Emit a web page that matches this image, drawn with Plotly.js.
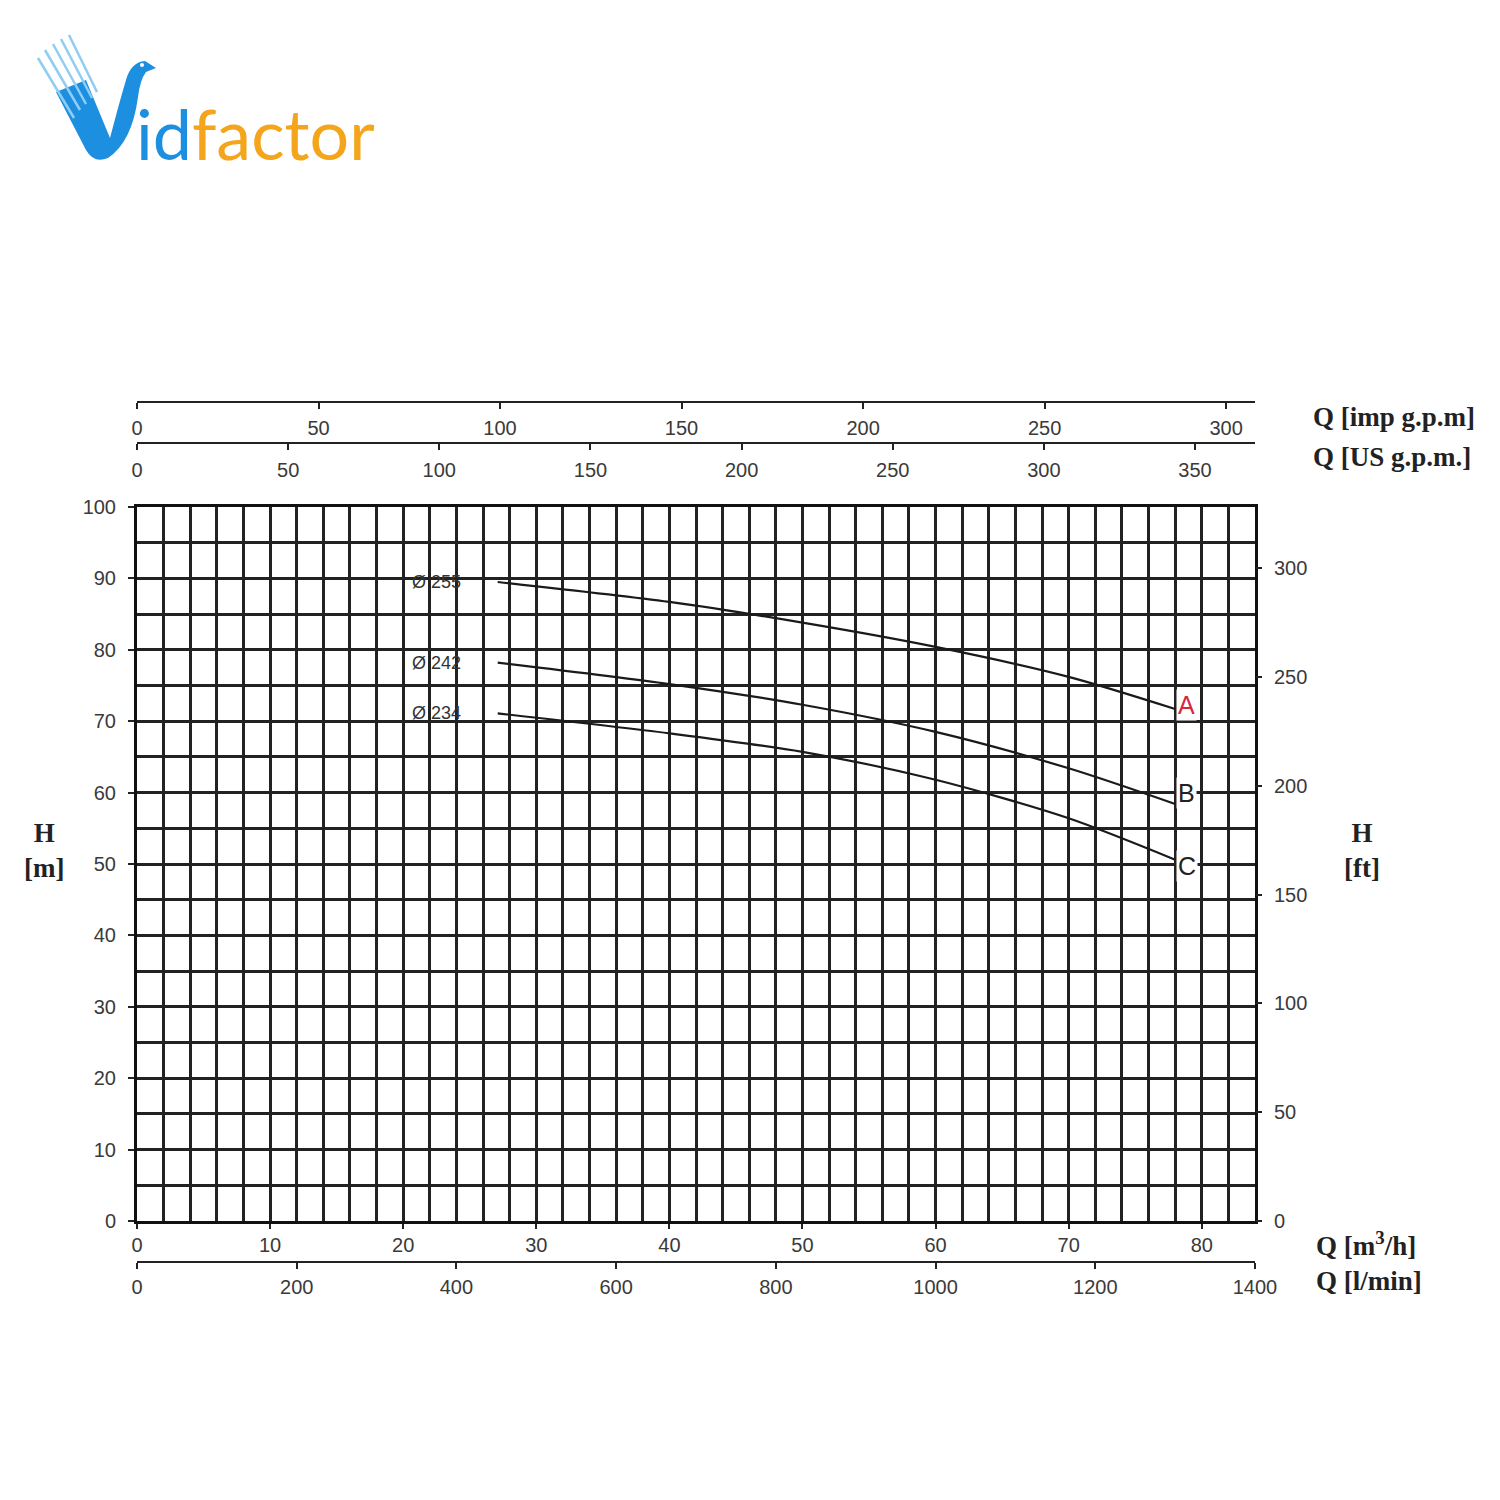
<!DOCTYPE html>
<html><head><meta charset="utf-8">
<script src="https://cdn.plot.ly/plotly-3.0.1.min.js"></script>
<style>body{margin:0;background:#fff}#chart{width:1500px;height:1500px}</style>
</head><body><div id="chart"></div>
<script>
// ---- data (flow in m3/h, head in m) ----
const flowM3h = [27.1, 40, 50, 60, 70, 78];
const headA = [89.5, 86.7, 83.8, 80.4, 76.2, 71.7];
const headB = [78.2, 75.2, 72.3, 68.5, 63.4, 58.4];
const headC = [71.1, 68.3, 65.7, 61.8, 56.4, 50.6];
const curveHeads = [headA, headB, headC];
const diameterLabels = ['Ø 255', 'Ø 242', 'Ø 234'];
const curveLetters = ['A', 'B', 'C'];
const letterColors = ['#d8263c', '#222222', '#222222'];
const letterShift = [4, 11, -6];

// ---- tick labels ----
const m3hTicks = [0, 10, 20, 30, 40, 50, 60, 70, 80];
const lminTicks = [0, 200, 400, 600, 800, 1000, 1200, 1400];
const usTicks = [0, 50, 100, 150, 200, 250, 300, 350];
const impTicks = [0, 50, 100, 150, 200, 250, 300];
const mTicks = [0, 10, 20, 30, 40, 50, 60, 70, 80, 90, 100];
const ftTicks = [0, 50, 100, 150, 200, 250, 300];

const Q_MAX = 84, H_MAX = 100;
const LMIN_PER_M3H = 1000 / 60, USGPM_PER_M3H = 4.40287, IMPGPM_PER_M3H = 3.66615, FT_PER_M = 3.28084;

// layout helpers (pixel -> paper), margins l=137 r=245 t=400 b=235
const ML = 137, MR = 245, MT = 400, MB = 235, W = 1500, H = 1500;
const PW = W - ML - MR, PH = H - MT - MB;
const px = x => (x - ML) / PW;
const py = y => (H - MB - y) / PH;

const tickFont = {family: 'Liberation Sans, Arial, sans-serif', size: 20, color: '#3a3a3a'};
const titleFont = {family: 'Liberation Serif, Times New Roman, serif', size: 27, color: '#222'};
const gridCol = '#222222';
const GW = 3;

const traces = curveHeads.map((h, i) => ({
  x: flowM3h, y: h, type: 'scatter', mode: 'lines',
  line: {color: '#1a1a1a', width: 2.2, shape: 'spline', smoothing: 0.8},
  xaxis: 'x', yaxis: 'y', showlegend: false, hoverinfo: 'skip'
}));
// helper empty traces so the secondary axes are drawn
['x2', 'x3', 'x4'].forEach(a => traces.push({x: [], y: [], type: 'scatter', mode: 'lines', xaxis: a, yaxis: 'y', showlegend: false}));
traces.push({x: [], y: [], type: 'scatter', mode: 'lines', xaxis: 'x', yaxis: 'y2', showlegend: false});

const freeAxis = (range, ticks, pos, standoff) => ({
  overlaying: 'x', anchor: 'free', position: pos, side: 'bottom',
  range: range, tickmode: 'array', tickvals: ticks, ticktext: ticks.map(String),
  showline: true, linecolor: '#222', linewidth: 2.2, ticks: 'outside', ticklen: 6, tickwidth: 2, tickcolor: '#222',
  showgrid: false, zeroline: false, tickfont: tickFont, ticklabelstandoff: standoff, fixedrange: true
});

const annotations = [];
curveHeads.forEach((h, i) => {
  annotations.push({xref: 'x', yref: 'y', x: flowM3h[0], y: h[0], text: diameterLabels[i], showarrow: false,
    xanchor: 'right', yanchor: 'middle', xshift: -35,
    font: {family: 'Liberation Sans, Arial, sans-serif', size: 18, color: '#333'}});
  annotations.push({xref: 'x', yref: 'y', x: flowM3h[flowM3h.length - 1], y: h[h.length - 1], text: curveLetters[i], showarrow: false,
    xanchor: 'left', yanchor: 'middle', xshift: 1, yshift: letterShift[i], bgcolor: '#ffffff', borderpad: 1,
    font: {family: 'Liberation Sans, Arial, sans-serif', size: 25, color: letterColors[i]}});
});
// axis titles
const titleAnn = (x, y, text, anchor) => ({xref: 'paper', yref: 'paper', x: px(x), y: py(y), text: text, showarrow: false,
  xanchor: anchor, yanchor: 'middle', font: titleFont});
annotations.push(titleAnn(1311, 417, '<b>Q [imp g.p.m]</b>', 'left'));
annotations.push(titleAnn(1311, 457, '<b>Q [US g.p.m.]</b>', 'left'));
annotations.push(titleAnn(1314, 1244, '<b>Q [m<sup>3</sup>/h]</b>', 'left'));
annotations.push(titleAnn(1314, 1281, '<b>Q [l/min]</b>', 'left'));
annotations.push(titleAnn(44, 850, '<b>H<br>[m]</b>', 'center'));
annotations.push(titleAnn(1362, 850, '<b>H<br>[ft]</b>', 'center'));
// logo text
annotations.push({xref: 'paper', yref: 'paper', x: px(134), y: py(133), xanchor: 'left', yanchor: 'middle', showarrow: false,
  text: '<span style="color:#1d8fe0">id</span><span style="color:#f4a51c">factor</span>',
  font: {family: 'Lato, Open Sans, sans-serif', size: 70}});

const P = (x, y) => px(x).toFixed(5) + ',' + py(y).toFixed(5);
const birdPath = 'M ' + P(56, 92) + ' L ' + P(86, 80) + ' L ' + P(110, 138) + ' Q ' + P(120, 100) + ' ' + P(126, 80) +
  ' Q ' + P(131, 62) + ' ' + P(145, 61) + ' L ' + P(156, 68) + ' L ' + P(146, 72) + ' Q ' + P(140, 80) + ' ' + P(138, 97) +
  ' Q ' + P(132, 142) + ' ' + P(108, 158) + ' Q ' + P(94, 164) + ' ' + P(86, 150) + ' Z';
const shapes = [{type: 'path', xref: 'paper', yref: 'paper', path: birdPath, fillcolor: '#1d8fe0', line: {width: 0}, layer: 'above'}];
const streaks = [[38, 58, 74, 118], [45, 50, 80, 110], [53, 44, 86, 104], [61, 39, 92, 98], [69, 35, 97, 92]];
streaks.forEach(s => shapes.push({type: 'line', xref: 'paper', yref: 'paper', x0: px(s[0]), y0: py(s[1]), x1: px(s[2]), y1: py(s[3]),
  line: {color: '#8fcdf3', width: 2.5}}));
shapes.push({type: 'circle', xref: 'paper', yref: 'paper', x0: px(140), y0: py(63), x1: px(144), y1: py(67), fillcolor: '#ffffff', line: {width: 0}});

const layout = {
  width: W, height: H, autosize: false,
  margin: {l: ML, r: MR, t: MT, b: MB, pad: 0},
  paper_bgcolor: '#ffffff', plot_bgcolor: '#ffffff', showlegend: false,
  xaxis: {
    domain: [0, 1], range: [0, Q_MAX], anchor: 'y', tickmode: 'array', tickvals: m3hTicks, ticktext: m3hTicks.map(String),
    ticks: 'outside', ticklen: 5, tickwidth: 2, tickcolor: '#222', tickfont: tickFont, ticklabelstandoff: -1,
    showgrid: true, gridcolor: gridCol, gridwidth: GW,
    minor: {tickmode: 'linear', tick0: 0, dtick: 2, showgrid: true, gridcolor: gridCol, gridwidth: GW, ticks: ''},
    showline: true, mirror: true, linecolor: '#111', linewidth: 3, zeroline: false, fixedrange: true
  },
  yaxis: {
    domain: [py(1221), py(507)], range: [0, H_MAX], anchor: 'x', tickmode: 'array', tickvals: mTicks, ticktext: mTicks.map(String),
    ticks: 'outside', ticklen: 6, tickwidth: 2, tickcolor: '#222', tickfont: tickFont, ticklabelstandoff: 8,
    showgrid: true, gridcolor: gridCol, gridwidth: GW,
    minor: {tickmode: 'linear', tick0: 0, dtick: 5, showgrid: true, gridcolor: gridCol, gridwidth: GW, ticks: ''},
    showline: true, mirror: true, linecolor: '#111', linewidth: 3, zeroline: false, fixedrange: true
  },
  yaxis2: {
    overlaying: 'y', side: 'right', anchor: 'x', range: [0, H_MAX * FT_PER_M], tickmode: 'array', tickvals: ftTicks, ticktext: ftTicks.map(String),
    ticks: 'outside', ticklen: 6, tickwidth: 2, tickcolor: '#222', tickfont: tickFont, ticklabelstandoff: 8,
    showgrid: false, zeroline: false, showline: false, fixedrange: true
  },
  xaxis2: freeAxis([0, Q_MAX * LMIN_PER_M3H], lminTicks, py(1262), 1),
  xaxis3: freeAxis([0, Q_MAX * USGPM_PER_M3H], usTicks, py(443), 3),
  xaxis4: freeAxis([0, Q_MAX * IMPGPM_PER_M3H], impTicks, py(402), 2),
  annotations: annotations,
  shapes: shapes
};

Plotly.newPlot('chart', traces, layout, {staticPlot: true, displayModeBar: false});
</script>
</body></html>
